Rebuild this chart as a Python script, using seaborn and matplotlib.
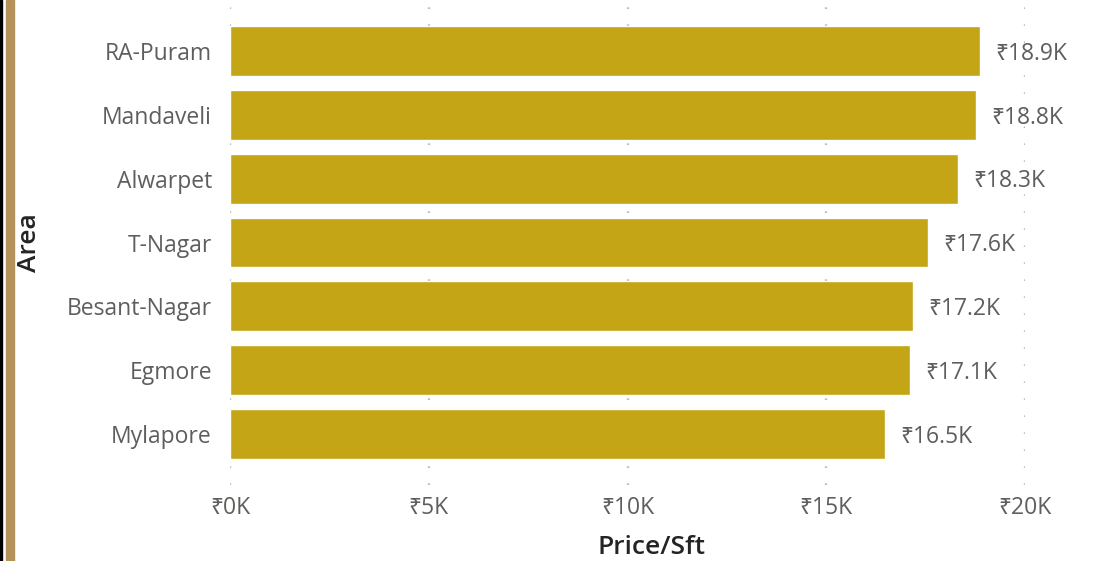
import seaborn as sns
import matplotlib.pyplot as plt
import matplotlib.patches as patches
import pandas as pd

areas = ['RA-Puram', 'Mandaveli', 'Alwarpet', 'T-Nagar', 'Besant-Nagar', 'Egmore', 'Mylapore']
price_sft = [18860, 18760, 18310, 17560, 17180, 17100, 16480]
bar_labels = ['₹18.9K', '₹18.8K', '₹18.3K', '₹17.6K', '₹17.2K', '₹17.1K', '₹16.5K']
x_ticks = [0, 5000, 10000, 15000, 20000]
x_tick_labels = ['₹0K', '₹5K', '₹10K', '₹15K', '₹20K']

df = pd.DataFrame({'Area': areas, 'Price/Sft': price_sft})

sns.set_theme(style="white")
plt.rcParams['font.family'] = ['Open Sans', 'Noto Sans', 'DejaVu Sans']

fig = plt.figure(figsize=(10.98, 5.61), dpi=100)
ax = fig.add_axes([230 / 1098, 1 - 485 / 561, 795 / 1098, 485 / 561])

sns.barplot(data=df, x='Price/Sft', y='Area', color='#c4a515', saturation=1,
            width=0.78, ax=ax)

ax.set_xlim(0, 20000)
ax.set_ylim(6.8, -0.8)
ax.set_xticks(x_ticks)
ax.set_xticklabels(x_tick_labels)

ax.grid(axis='x', linestyle=(0, (0.7, 6.5)), color='#bdbdbd', linewidth=1.7)
ax.grid(axis='y', visible=False)
ax.set_axisbelow(True)
sns.despine(ax=ax, left=True, bottom=True, top=True, right=True)

ax.tick_params(axis='y', length=0, pad=13, labelsize=16.5, labelcolor='#605e5c')
ax.tick_params(axis='x', length=0, pad=8, labelsize=16.5, labelcolor='#605e5c')

labels = ax.bar_label(ax.containers[0], labels=bar_labels, padding=11,
                      fontsize=16.5, color='#605e5c')
for t in labels:
    t.xyann = (t.xyann[0], -2)

ax.set_xlabel('Price/Sft', fontsize=19, color='#252423', fontweight='semibold')
ax.set_ylabel('Area', fontsize=19, color='#252423', fontweight='semibold')
ax.xaxis.set_label_coords((651 - 230) / 795, -(535 - 485) / 485)
ax.yaxis.set_label_coords(-(230 - 42) / 795, 0.5)

# left frame border
fig.patches.append(patches.Rectangle((0, 0), 2 / 1098, 1, transform=fig.transFigure,
                                     color='black', zorder=5))
fig.patches.append(patches.Rectangle((6 / 1098, 0), 8 / 1098, 1, transform=fig.transFigure,
                                     color='#b5925a', zorder=5))

fig.savefig('out.png', dpi=100, facecolor='white')
